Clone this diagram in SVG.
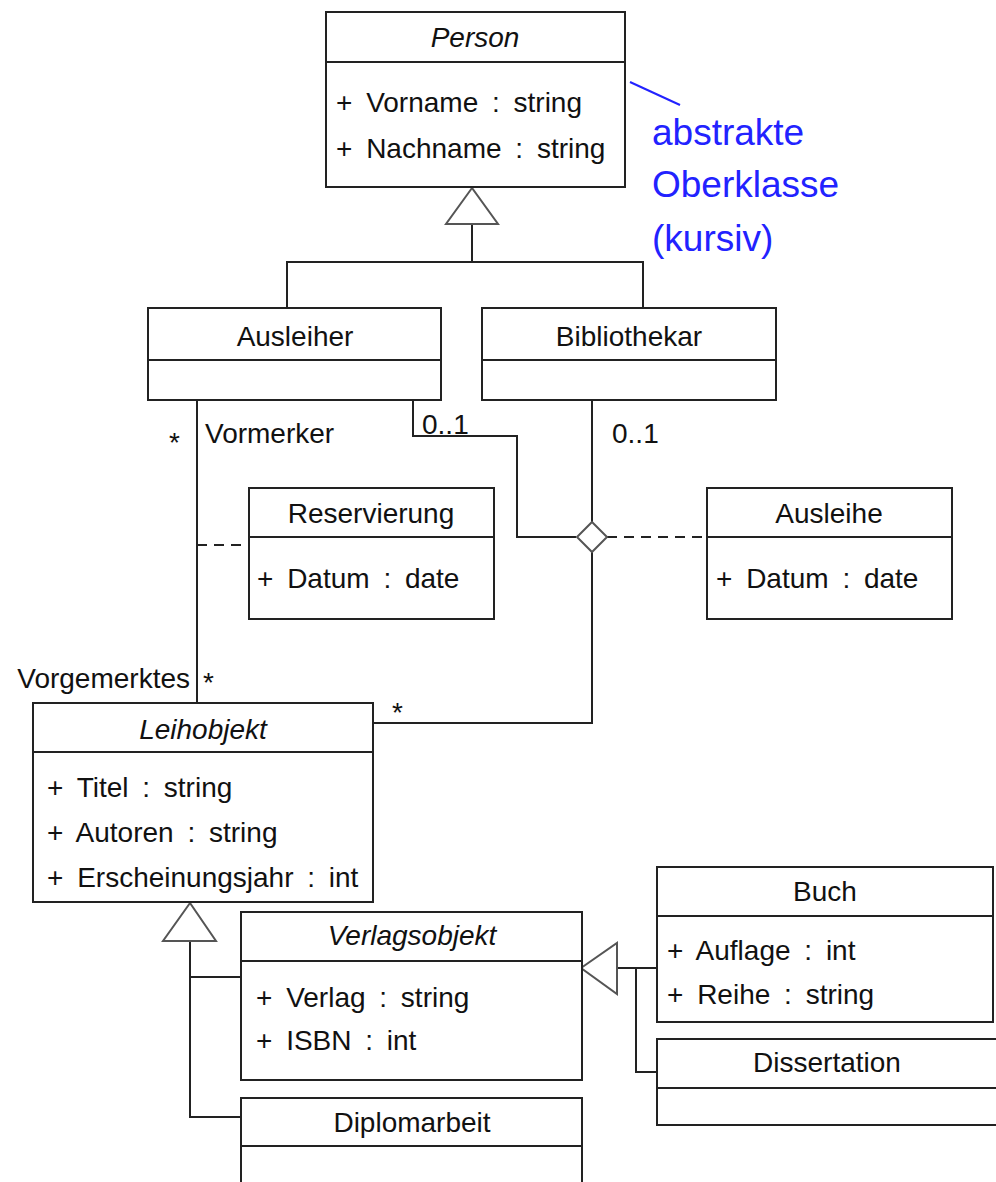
<svg xmlns="http://www.w3.org/2000/svg" width="996" height="1182" viewBox="0 0 996 1182">
<style>
  .box { fill: #fff; stroke: #222; stroke-width: 2; }
  .div { stroke: #222; stroke-width: 2; }
  .ln { fill: none; stroke: #222; stroke-width: 2; }
  .dash { fill: none; stroke: #222; stroke-width: 2; stroke-dasharray: 10 7; }
  .head { fill: #fff; stroke: #555; stroke-width: 2; }
  text { font-family: "Liberation Sans", Arial, sans-serif; font-size: 28px; fill: #111; }
  .c { text-anchor: middle; }
  .i { font-style: italic; }
  .a { word-spacing: 6px; }
  .note { font-size: 37px; fill: #2222ff; }
</style>
<rect width="996" height="1182" fill="#fff"/>

<g id="connectors">
  <!-- generalization Person -->
  <polyline class="ln" points="287,308 287,262 643,262 643,308"/>
  <line class="ln" x1="472" y1="224" x2="472" y2="262"/>
  <polygon class="head" points="472,188 446,224 498,224"/>
  <!-- Vormerker association -->
  <line class="ln" x1="197" y1="400" x2="197" y2="703"/>
  <line class="dash" x1="197" y1="545" x2="249" y2="545"/>
  <!-- Ausleihe n-ary -->
  <polyline class="ln" points="413,400 413,436 517,436 517,537 576,537"/>
  <line class="ln" x1="592" y1="400" x2="592" y2="522"/>
  <polyline class="ln" points="592,552 592,723 373,723"/>
  <line class="dash" x1="607" y1="537" x2="707" y2="537"/>
  <polygon class="head" points="592,522 607,537 592,552 577,537"/>
  <!-- generalization Leihobjekt -->
  <polyline class="ln" points="190,941 190,1117 241,1117"/>
  <line class="ln" x1="190" y1="977" x2="241" y2="977"/>
  <polygon class="head" points="190,903 163,941 216,941"/>
  <!-- generalization Verlagsobjekt -->
  <line class="ln" x1="617" y1="968" x2="657" y2="968"/>
  <polyline class="ln" points="636,968 636,1072 657,1072"/>
  <polygon class="head" points="581,968 617,943 617,994"/>
  <!-- annotation line -->
  <line x1="630" y1="82" x2="680" y2="105" stroke="#2222ff" stroke-width="2"/>
  <!-- labels -->
  <text x="169" y="452">*</text>
  <text x="205" y="443">Vormerker</text>
  <text x="422" y="434">0..1</text>
  <text x="612" y="443">0..1</text>
  <text x="190" y="688" text-anchor="end">Vorgemerktes</text>
  <text x="203" y="692">*</text>
  <text x="392" y="722">*</text>
</g>

<g id="annotation">
  <text class="note" x="652" y="145">abstrakte</text>
  <text class="note" x="652" y="197">Oberklasse</text>
  <text class="note" x="652" y="251">(kursiv)</text>
</g>

<g id="person">
  <rect class="box" x="326" y="12" width="299" height="175"/>
  <line class="div" x1="326" y1="62" x2="625" y2="62"/>
  <text class="c i" x="475" y="47">Person</text>
  <text class="a" x="336" y="112">+ Vorname : string</text>
  <text class="a" x="336" y="158">+ Nachname : string</text>
</g>

<g id="ausleiher">
  <rect class="box" x="148" y="308" width="293" height="92"/>
  <line class="div" x1="148" y1="360" x2="441" y2="360"/>
  <text class="c" x="295" y="346">Ausleiher</text>
</g>

<g id="bibliothekar">
  <rect class="box" x="482" y="308" width="294" height="92"/>
  <line class="div" x1="482" y1="360" x2="776" y2="360"/>
  <text class="c" x="629" y="346">Bibliothekar</text>
</g>

<g id="reservierung">
  <rect class="box" x="249" y="488" width="245" height="131"/>
  <line class="div" x1="249" y1="537" x2="494" y2="537"/>
  <text class="c" x="371" y="523">Reservierung</text>
  <text class="a" x="257" y="588">+ Datum : date</text>
</g>

<g id="ausleihe">
  <rect class="box" x="707" y="488" width="245" height="131"/>
  <line class="div" x1="707" y1="537" x2="952" y2="537"/>
  <text class="c" x="829" y="523">Ausleihe</text>
  <text class="a" x="716" y="588">+ Datum : date</text>
</g>

<g id="leihobjekt">
  <rect class="box" x="33" y="703" width="340" height="199"/>
  <line class="div" x1="33" y1="752" x2="373" y2="752"/>
  <text class="c i" x="203" y="739">Leihobjekt</text>
  <text class="a" x="47" y="797">+ Titel : string</text>
  <text class="a" x="47" y="842">+ Autoren : string</text>
  <text class="a" x="47" y="887">+ Erscheinungsjahr : int</text>
</g>

<g id="verlagsobjekt">
  <rect class="box" x="241" y="912" width="341" height="168"/>
  <line class="div" x1="241" y1="961" x2="582" y2="961"/>
  <text class="c i" x="412" y="945">Verlagsobjekt</text>
  <text class="a" x="256" y="1007">+ Verlag : string</text>
  <text class="a" x="256" y="1050">+ ISBN : int</text>
</g>

<g id="diplomarbeit">
  <rect class="box" x="241" y="1098" width="341" height="100"/>
  <line class="div" x1="241" y1="1146" x2="582" y2="1146"/>
  <text class="c" x="412" y="1132">Diplomarbeit</text>
</g>

<g id="buch">
  <rect class="box" x="657" y="867" width="336" height="155"/>
  <line class="div" x1="657" y1="916" x2="993" y2="916"/>
  <text class="c" x="825" y="901">Buch</text>
  <text class="a" x="667" y="960">+ Auflage : int</text>
  <text class="a" x="667" y="1004">+ Reihe : string</text>
</g>

<g id="dissertation">
  <rect class="box" x="657" y="1039" width="345" height="86"/>
  <line class="div" x1="657" y1="1088" x2="1002" y2="1088"/>
  <text class="c" x="827" y="1072">Dissertation</text>
</g>
</svg>
